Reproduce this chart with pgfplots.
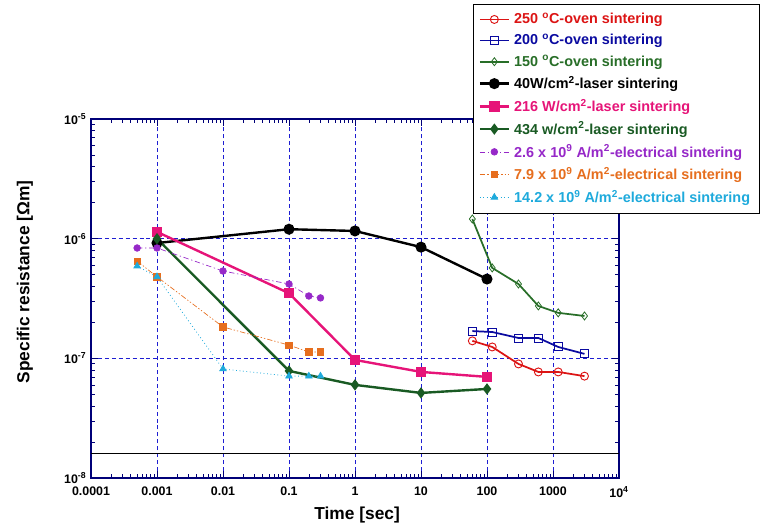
\documentclass[border=0pt]{standalone}
\usepackage{pgfplots}
\pgfplotsset{compat=1.18}
\usepackage{fontspec}
\setmainfont{Liberation Sans}
\definecolor{cred}{RGB}{220,20,20}
\definecolor{cblue}{RGB}{10,10,160}
\definecolor{cgreenA}{RGB}{40,110,40}
\definecolor{cpink}{RGB}{230,20,120}
\definecolor{cgreenB}{RGB}{25,90,35}
\definecolor{cpurple}{RGB}{150,40,200}
\definecolor{corange}{RGB}{230,110,30}
\definecolor{ccyan}{RGB}{30,170,220}
\definecolor{cnavy}{RGB}{0,0,120}
\definecolor{cgrid}{RGB}{30,30,210}
\begin{document}
\begin{tikzpicture}
\useasboundingbox (-68.25pt,-39.75pt) rectangle (505.5pt,358.5pt);
\begin{axis}[
  at={(0pt,0pt)}, anchor=south west,
  scale only axis, width=396pt, height=269.25pt,
  xmode=log, ymode=log,
  xmin=1e-4, xmax=1e4, ymin=1e-8, ymax=1e-5,
  axis line style={cnavy, line width=0.8pt},
  tick style={cnavy, line width=0.5pt},
  tick align=inside,
  major tick length=5pt, minor tick length=3pt,
  xtick={1e-4,1e-3,1e-2,1e-1,1,10,100,1000,10000},
  xticklabels={0.0001,0.001,0.01,0.1,1,10,100,1000,10\textsuperscript{4}},
  ytick={1e-8,1e-7,1e-6,1e-5},
  yticklabels={10\textsuperscript{-8},10\textsuperscript{-7},10\textsuperscript{-6},10\textsuperscript{-5}},
  ticklabel style={font=\fontsize{9.3}{11}\selectfont\bfseries},
  xticklabel style={yshift=-3pt},
  grid=major,
  major grid style={cgrid, line width=0.6pt, dash pattern=on 3pt off 2.2pt},
  xlabel={Time [sec]},
  ylabel={Specific resistance [Ωm]},
  label style={font=\fontsize{13}{15}\selectfont\bfseries},
  xlabel style={at={(axis description cs:0.504,-0.103)}, anchor=center},
  ylabel style={at={(axis description cs:-0.125,0.546)}, anchor=center},
  legend style={at={(0.7235,1.3203)}, anchor=north west, draw=black, line width=0.6pt,
    font=\fontsize{10.8}{12}\selectfont\bfseries, row sep=3.3pt, inner xsep=4pt, inner ysep=5pt,
    nodes={inner xsep=3.2pt, inner ysep=1.5pt}},
  legend image code/.code={\draw[mark repeat=2,mark phase=2] plot coordinates {(0cm,0cm)(0.38cm,0cm)(0.76cm,0cm)};},
  legend cell align=left,
]
\addplot[cred, line width=1.3pt, mark=o, mark size=3pt, mark options={fill=white, line width=0.7pt}]
  coordinates {(60,1.40e-7)(120,1.245e-7)(300,8.98e-8)(600,7.7e-8)(1200,7.7e-8)(3000,7.1e-8)};
\addlegendentry{\textcolor{cred}{250 \textsuperscript{o}C-oven sintering}}
\addplot[cblue, line width=1.3pt, mark=square, mark size=3pt, mark options={fill=white, line width=0.7pt}]
  coordinates {(60,1.69e-7)(120,1.66e-7)(300,1.48e-7)(600,1.48e-7)(1200,1.245e-7)(3000,1.09e-7)};
\addlegendentry{\textcolor{cblue}{200 \textsuperscript{o}C-oven sintering}}
\addplot[cgreenA, line width=1.3pt, mark=diamond, mark size=3pt, mark options={fill=white, line width=0.6pt}]
  coordinates {(60,1.46e-6)(120,5.7e-7)(300,4.18e-7)(600,2.74e-7)(1200,2.4e-7)(3000,2.26e-7)};
\addlegendentry{\textcolor{cgreenA}{150 \textsuperscript{o}C-oven sintering}}
\addplot[black, line width=1.8pt, mark=*, mark size=3.2pt, mark options={solid}]
  coordinates {(0.001,9.2e-7)(0.1,1.2e-6)(1,1.16e-6)(10,8.5e-7)(100,4.6e-7)};
\addlegendentry{\textcolor{black}{40W/cm\textsuperscript{2}-laser sintering}}
\addplot[cpink, line width=1.8pt, mark=square*, mark size=3pt, mark options={solid}]
  coordinates {(0.001,1.14e-6)(0.1,3.5e-7)(1,9.7e-8)(10,7.7e-8)(100,7.0e-8)};
\addlegendentry{\textcolor{cpink}{216 W/cm\textsuperscript{2}-laser sintering}}
\addplot[cgreenB, line width=1.8pt, mark=diamond*, mark size=2.8pt, mark options={solid}]
  coordinates {(0.001,1.0e-6)(0.1,7.85e-8)(1,6.0e-8)(10,5.14e-8)(100,5.55e-8)};
\addlegendentry{\textcolor{cgreenB}{434 w/cm\textsuperscript{2}-laser sintering}}
\addplot[cpurple, line width=0.5pt, dash pattern=on 4pt off 2pt on 1pt off 2pt, mark=*, mark size=2.5pt, mark options={solid}]
  coordinates {(0.0005,8.36e-7)(0.001,8.36e-7)(0.01,5.37e-7)(0.1,4.18e-7)(0.2,3.32e-7)(0.3,3.2e-7)};
\addlegendentry{\textcolor{cpurple}{2.6 x 10\textsuperscript{9} A/m\textsuperscript{2}-electrical sintering}}
\addplot[corange, line width=0.5pt, dash pattern=on 4pt off 1.5pt on 1pt off 1.5pt on 1pt off 1.5pt, mark=square*, mark size=2.4pt, mark options={solid}]
  coordinates {(0.0005,6.5e-7)(0.001,4.8e-7)(0.01,1.83e-7)(0.1,1.29e-7)(0.2,1.13e-7)(0.3,1.13e-7)};
\addlegendentry{\textcolor{corange}{7.9 x 10\textsuperscript{9} A/m\textsuperscript{2}-electrical sintering}}
\addplot[ccyan, line width=0.6pt, dotted, mark=triangle*, mark size=2.8pt, mark options={solid}]
  coordinates {(0.0005,5.9e-7)(0.001,4.8e-7)(0.01,8.15e-8)(0.1,7.1e-8)(0.2,7.1e-8)(0.3,7.1e-8)};
\addlegendentry{\textcolor{ccyan}{14.2 x 10\textsuperscript{9} A/m\textsuperscript{2}-electrical sintering}}
\addplot[black, line width=0.5pt, forget plot] coordinates {(1e-4,1.6e-8)(1e4,1.6e-8)};
\end{axis}
\end{tikzpicture}
\end{document}
